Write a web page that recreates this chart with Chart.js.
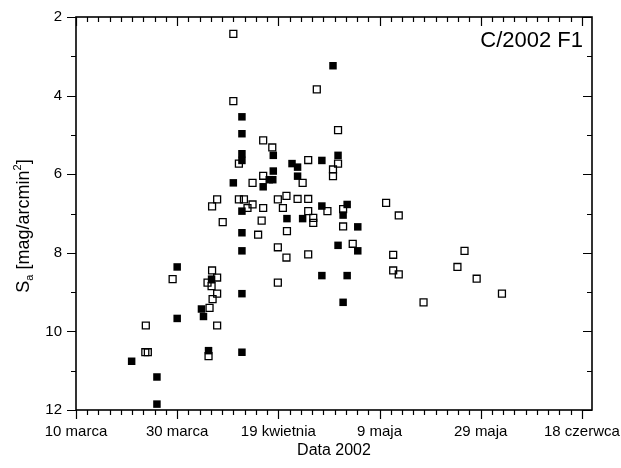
<!DOCTYPE html>
<html>
<head>
<meta charset="utf-8">
<script src="https://cdn.jsdelivr.net/npm/chart.js@4/dist/chart.umd.min.js"></script>
<style>
  html, body { margin: 0; padding: 0; background: #fff; }
  #wrap { width: 621px; height: 468px; }
</style>
</head>
<body>
<div id="wrap"><canvas id="c" width="621" height="468"></canvas></div>
<script>
// Time axis: days counted from 10 March 2002
const tickDays = [0, 20, 40, 60, 80, 100];
const tickLabels = ['10 marca', '30 marca', '19 kwietnia', '9 maja', '29 maja', '18 czerwca'];
const magTicks = [2, 4, 6, 8, 10, 12];

// Surface brightness estimates, filled squares
const filledDay = [11.0, 16.0, 16.0, 20.0, 20.0, 24.8, 25.2, 26.2, 26.8, 31.1,
  32.8, 32.8, 32.8, 32.8, 32.8, 32.8, 32.8, 32.8, 32.8,
  37.0, 38.2, 38.9, 39.0, 39.0, 41.7, 42.7, 43.8, 43.8, 44.8,
  48.6, 48.6, 48.6, 50.8, 51.8, 52.8, 53.6, 51.8, 53.6, 52.8, 55.7, 55.7];
const filledMag = [10.76, 11.16, 11.85, 8.36, 9.67, 9.43, 9.62, 10.49, 8.67, 6.22,
  4.54, 4.97, 5.48, 5.65, 6.94, 7.49, 7.95, 9.04, 10.53,
  6.32, 6.14, 6.14, 5.92, 5.52, 7.13, 5.73, 5.82, 6.05, 7.13,
  5.65, 6.81, 8.58, 3.24, 5.52, 7.04, 6.77, 7.81, 8.58, 9.26, 7.34, 7.95];

// Surface brightness estimates, open squares
const openDay = [13.8, 13.7, 14.2, 19.1, 26.0, 26.4, 26.2, 26.9, 26.8, 27.0,
  27.9, 27.9, 27.9, 26.9, 27.9, 29.0, 31.1, 31.1, 32.2, 32.2,
  33.2, 33.9, 34.9, 34.9, 36.0, 36.7, 37.0, 37.0, 37.0, 38.8,
  39.9, 39.9, 39.9, 40.9, 41.6, 41.7, 41.6, 43.8, 44.8, 45.9,
  45.9, 45.9, 45.9, 46.9, 46.9, 47.6, 49.7, 50.8, 50.8, 51.8,
  51.8, 52.8, 52.8, 54.7, 61.3, 63.8, 62.7, 62.7, 63.8, 68.7,
  75.4, 76.8, 79.2, 84.2];
const openMag = [9.85, 10.53, 10.53, 8.67, 8.76, 9.40, 10.63, 8.45, 8.85, 9.18,
  8.63, 9.04, 9.85, 6.82, 6.64, 7.22, 2.43, 4.14, 5.73, 6.64,
  6.64, 6.86, 6.77, 6.22, 7.54, 7.18, 5.14, 6.04, 6.86, 5.32,
  6.64, 7.86, 8.76, 6.86, 6.55, 7.45, 8.12, 6.63, 6.22, 5.64,
  6.63, 6.94, 8.04, 7.11, 7.24, 3.84, 6.94, 5.88, 6.05, 4.88,
  5.73, 6.89, 7.33, 7.77, 6.73, 7.05, 8.05, 8.45, 8.55, 9.26,
  8.36, 7.95, 8.66, 9.04];

const FONT = '"Liberation Sans", Arial, Helvetica, sans-serif';
Chart.defaults.font.family = FONT;
Chart.defaults.color = '#000';

const toPoints = (xs, ys) => xs.map((d, i) => ({ x: d, y: ys[i] }));

// Frame, mirrored ticks with minor divisions, and the axis titles
const framePlugin = {
  id: 'frame',
  afterDatasetsDraw(chart) {
    const { ctx, chartArea: a, scales: { x, y } } = chart;
    ctx.save();
    ctx.strokeStyle = '#000';
    ctx.lineWidth = 1.6;
    ctx.strokeRect(a.left, a.top, a.right - a.left, a.bottom - a.top);

    ctx.lineWidth = 1.2;
    ctx.beginPath();
    const minorStep = 20 / 9;
    for (let i = 0; i * minorStep <= x.max + 1e-6; i++) {
      const px = Math.round(x.getPixelForValue(i * minorStep)) + 0.5;
      const len = i % 9 === 0 ? 9 : 5;
      ctx.moveTo(px, a.bottom); ctx.lineTo(px, a.bottom + len);
      ctx.moveTo(px, a.top); ctx.lineTo(px, a.top + len);
    }
    for (let v = y.min; v <= y.max; v++) {
      const py = Math.round(y.getPixelForValue(v)) + 0.5;
      const len = v % 2 === 0 ? 9 : 5;
      ctx.moveTo(a.left, py); ctx.lineTo(a.left - len, py);
      ctx.moveTo(a.right, py); ctx.lineTo(a.right - len, py);
    }
    ctx.stroke();

    ctx.fillStyle = '#000';
    ctx.font = '22px ' + FONT;
    ctx.textAlign = 'right';
    ctx.textBaseline = 'alphabetic';
    ctx.fillText('C/2002 F1', a.right - 9, a.top + 30);

    ctx.font = '16px ' + FONT;
    ctx.textAlign = 'center';
    ctx.fillText('Data 2002', (a.left + a.right) / 2, 455);

    // S_a [mag/arcmin^2], rotated
    const big = '18px ' + FONT, small = '11px ' + FONT;
    const parts = [['S', big, 0], ['a', small, 4], [' [mag/arcmin', big, 0], ['2', small, -8], [']', big, 0]];
    let total = 0;
    parts.forEach(p => { ctx.font = p[1]; total += ctx.measureText(p[0]).width; });
    ctx.translate(29, 226);
    ctx.rotate(-Math.PI / 2);
    ctx.textAlign = 'left';
    let cx = -total / 2;
    parts.forEach(p => {
      ctx.font = p[1];
      ctx.fillText(p[0], cx, p[2]);
      cx += ctx.measureText(p[0]).width;
    });
    ctx.restore();
  }
};

new Chart(document.getElementById('c'), {
  type: 'scatter',
  data: {
    datasets: [
      {
        data: toPoints(filledDay, filledMag),
        pointStyle: 'rect',
        pointRadius: 5.3,
        backgroundColor: '#000',
        borderColor: '#000',
        borderWidth: 0
      },
      {
        data: toPoints(openDay, openMag),
        pointStyle: 'rect',
        pointRadius: 4.9,
        backgroundColor: 'rgba(0,0,0,0)',
        borderColor: '#000',
        borderWidth: 1.3
      }
    ]
  },
  options: {
    responsive: false,
    animation: false,
    devicePixelRatio: 1,
    layout: { padding: { top: 17, right: 29, left: 0, bottom: 0 } },
    plugins: { legend: { display: false }, tooltip: { enabled: false } },
    elements: { point: { hoverRadius: 5 } },
    scales: {
      x: {
        type: 'linear',
        min: 0,
        max: 102,
        grid: { display: false, drawTicks: true, tickLength: 9 },
        border: { display: false },
        afterBuildTicks: s => { s.ticks = tickDays.map(v => ({ value: v })); },
        afterFit: s => { s.height = 58; s.paddingLeft = 0; s.paddingRight = 0; },
        ticks: {
          autoSkip: false,
          maxRotation: 0,
          padding: 4,
          font: { size: 15 },
          callback: v => tickLabels[tickDays.indexOf(v)]
        }
      },
      y: {
        type: 'linear',
        reverse: true,
        min: 2,
        max: 12,
        grid: { display: false, drawTicks: true, tickLength: 9 },
        border: { display: false },
        afterBuildTicks: s => { s.ticks = magTicks.map(v => ({ value: v })); },
        afterFit: s => { s.width = 76; },
        ticks: {
          autoSkip: false,
          padding: 5,
          font: { size: 15 },
          callback: v => String(v)
        }
      }
    }
  },
  plugins: [framePlugin]
});
</script>
</body>
</html>
